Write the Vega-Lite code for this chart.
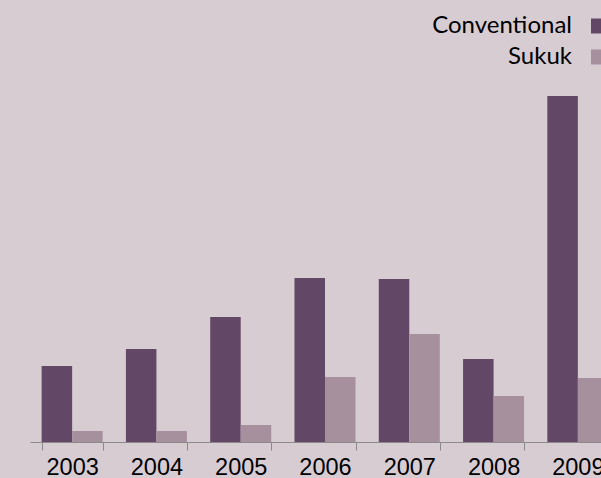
{
  "$schema": "https://vega.github.io/schema/vega-lite/v6.json",
  "width": 571,
  "height": 442,
  "autosize": {"type": "none"},
  "padding": {"left": 30, "top": 0, "right": 0, "bottom": 36},
  "background": "#d8ccd3",
  "data": {
    "values": [
      {"year": "2003", "type": "Conventional", "value": 76},
      {"year": "2003", "type": "Sukuk", "value": 11},
      {"year": "2004", "type": "Conventional", "value": 93},
      {"year": "2004", "type": "Sukuk", "value": 11},
      {"year": "2005", "type": "Conventional", "value": 125},
      {"year": "2005", "type": "Sukuk", "value": 17},
      {"year": "2006", "type": "Conventional", "value": 164},
      {"year": "2006", "type": "Sukuk", "value": 65},
      {"year": "2007", "type": "Conventional", "value": 163},
      {"year": "2007", "type": "Sukuk", "value": 108},
      {"year": "2008", "type": "Conventional", "value": 83},
      {"year": "2008", "type": "Sukuk", "value": 46},
      {"year": "2009", "type": "Conventional", "value": 346},
      {"year": "2009", "type": "Sukuk", "value": 64}
    ]
  },
  "mark": {"type": "bar"},
  "encoding": {
    "x": {
      "field": "year",
      "type": "nominal",
      "scale": {"range": [0, 590], "paddingInner": 0.276, "paddingOuter": 0.138},
      "axis": {
        "title": null,
        "labelAngle": 0,
        "labelFont": "Liberation Sans",
        "labelFontSize": 23.5,
        "labelColor": "#000000",
        "labelPadding": 5,
        "tickBand": "extent",
        "tickSize": 8,
        "tickColor": "#8a8a8a",
        "domainColor": "#8a8a8a",
        "grid": false
      }
    },
    "xOffset": {
      "field": "type",
      "sort": ["Conventional", "Sukuk"],
      "scale": {"paddingInner": 0, "paddingOuter": 0}
    },
    "y": {
      "field": "value",
      "type": "quantitative",
      "scale": {"domain": [0, 442], "nice": false},
      "axis": null
    },
    "color": {
      "field": "type",
      "type": "nominal",
      "scale": {"domain": ["Conventional", "Sukuk"], "range": ["#634766", "#a7909e"]},
      "legend": {
        "orient": "none",
        "legendX": 556.5,
        "legendY": 14,
        "title": null,
        "symbolType": "square",
        "symbolSize": 225,
        "symbolStrokeWidth": 0,
        "symbolOpacity": 1,
        "labelFont": "Lato",
        "labelFontSize": 24,
        "labelColor": "#000000",
        "labelAlign": "right",
        "labelOffset": -38.5,
        "rowPadding": 7
      }
    }
  },
  "config": {"view": {"stroke": null}}
}
